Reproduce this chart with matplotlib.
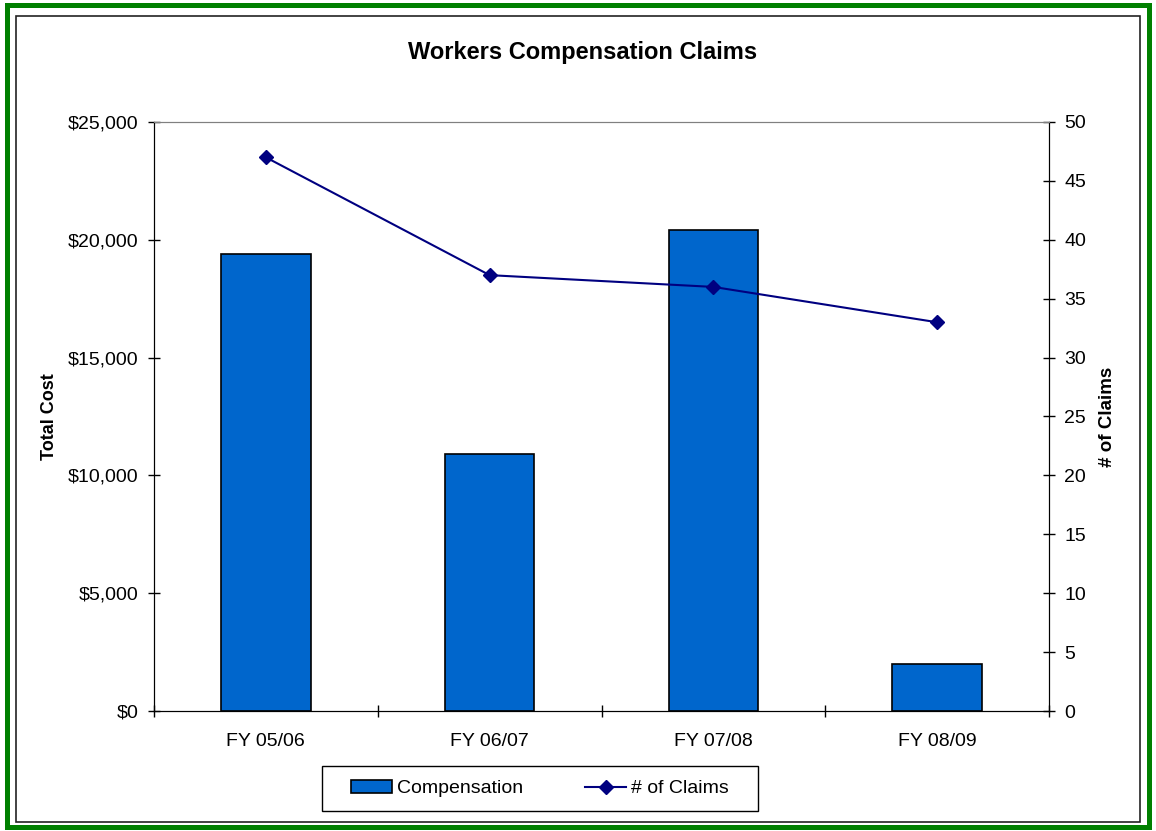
import matplotlib.pyplot as plt
from matplotlib.patches import Rectangle
from matplotlib.ticker import FuncFormatter

plt.rcParams['font.family'] = ['Liberation Sans', 'DejaVu Sans']

# data
years = ['FY 05/06', 'FY 06/07', 'FY 07/08', 'FY 08/09']
compensation = [19400, 10900, 20400, 2000]
claims = [47, 37, 36, 33]

W, H = 1156, 831
fig = plt.figure(figsize=(W / 100, H / 100), dpi=100)
ax = fig.add_axes([154/W, 1 - 711/H, (1049 - 154)/W, (711 - 122)/H])

x = list(range(len(years)))
bars = ax.bar(x, compensation, width=0.4, color='#0066CC', edgecolor='black',
              linewidth=1.2, label='Compensation', zorder=2)
ax.set_xlim(-0.5, len(years) - 0.5)
ax.set_ylim(0, 25000)
ax.set_yticks(range(0, 25001, 5000))
ax.yaxis.set_major_formatter(FuncFormatter(lambda v, p: f'${v:,.0f}'))
ax.set_xticks(x)
ax.set_xticklabels(years)
ax.set_xticks([i + 0.5 for i in range(-1, len(years))], minor=True)
ax.tick_params(axis='x', which='major', length=0, labelsize=14, pad=16)
ax.tick_params(axis='x', which='minor', direction='inout', length=8, width=1)
ax.tick_params(axis='y', direction='inout', length=8, width=1, labelsize=14, pad=7)
ax.set_ylabel('Total Cost', fontsize=13, fontweight='bold', labelpad=7)
ax.spines['top'].set_color('#808080')
for s in ['left', 'bottom', 'right']:
    ax.spines[s].set_color('black')

fig.text(583/W, 1 - 52/H, 'Workers Compensation Claims', fontsize=17, fontweight='bold',
         ha='center', va='center')

ax2 = ax.twinx()
line, = ax2.plot(x, claims, color='#000080', linewidth=1.5, marker='D', markersize=7,
                 label='# of Claims')
ax2.set_ylim(0, 50)
ax2.set_yticks(range(0, 51, 5))
ax2.tick_params(axis='y', direction='inout', length=8, width=1, labelsize=14, pad=7)
ax2.set_ylabel('# of Claims', fontsize=13.5, fontweight='bold', labelpad=9)
ax2.spines['top'].set_color('#808080')
ax2.spines['right'].set_color('black')

fig.legend([bars, line], ['Compensation', '# of Claims'], loc='center',
           bbox_to_anchor=(540/W, 1 - 788.5/H), ncol=2, fontsize=14,
           frameon=False, columnspacing=3.2, handlelength=2.1, handletextpad=0.25)
# legend frame
fig.patches.append(Rectangle((322/W, 1 - 811/H), (758 - 322)/W, (811 - 766)/H,
                             transform=fig.transFigure, fill=False,
                             edgecolor='black', linewidth=1))

# chart borders
fig.patches.append(Rectangle((6.5/W, 4.5/H), (1149 - 6.5)/W, (826.5 - 4.5)/H,
                             transform=fig.transFigure, fill=False,
                             edgecolor='#008000', linewidth=3.6))
fig.patches.append(Rectangle((15.5/W, 1 - 821.5/H), (1140 - 15.5)/W, (821.5 - 15.5)/H,
                             transform=fig.transFigure, fill=False,
                             edgecolor='#222222', linewidth=1.2))

fig.savefig('out.png', dpi=100)
